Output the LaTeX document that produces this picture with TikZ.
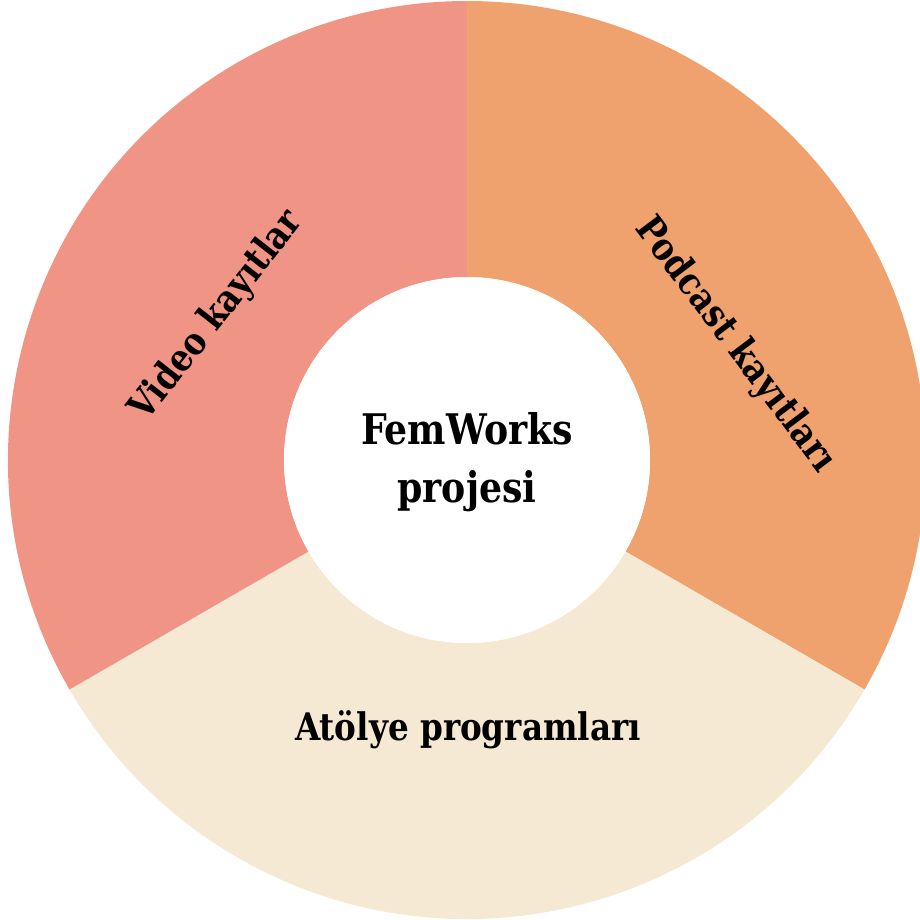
\documentclass[tikz,border=0pt]{standalone}
\usepackage{fontspec}
\setmainfont[FakeStretch=0.86]{DejaVu Serif}
\usetikzlibrary{positioning}

\definecolor{videoc}{HTML}{F09585}
\definecolor{podc}{HTML}{F0A26E}
\definecolor{atolc}{HTML}{F5E9D4}

\begin{document}
\begin{tikzpicture}[x=1cm,y=1cm]

  \useasboundingbox (-4.67,-4.60) rectangle (4.53,4.60);

  % donut sectors
  \fill[podc] (90:1.83) -- (90:4.59) arc (90:-30:4.59) -- (-30:1.83) arc (-30:90:1.83) -- cycle;
  \fill[atolc] (-30:1.83) -- (-30:4.59) arc (-30:-150:4.59) -- (210:1.83) arc (210:330:1.83) -- cycle;
  \fill[videoc] (210:1.83) -- (210:4.59) arc (210:90:4.59) -- (90:1.83) arc (90:210:1.83) -- cycle;

  \node[circle,
        fill = white,
        minimum size = 3.66cm,
        inner sep = 0pt
        ] (hub) at (0,0) {};
  \node[align = center,
        font = \bfseries\fontsize{12}{16.5}\selectfont
        ] (proj) at (0,-0.02) {FemWorks\\projesi};

  \node[rotate = -53,
        font = \bfseries\fontsize{10.8}{12}\selectfont
        ] (pod) at (2.68,1.15) {Podcast kayıtları};

  \node[rotate = 52,
        font = \bfseries\fontsize{10.8}{12}\selectfont
        ] (vid) at (-2.50,1.44) {Video kayıtlar};

  \node[font = \bfseries\fontsize{10.8}{12}\selectfont
        ] (atol) at (0.01,-2.70) {Atölye programları};

\end{tikzpicture}
\end{document}
